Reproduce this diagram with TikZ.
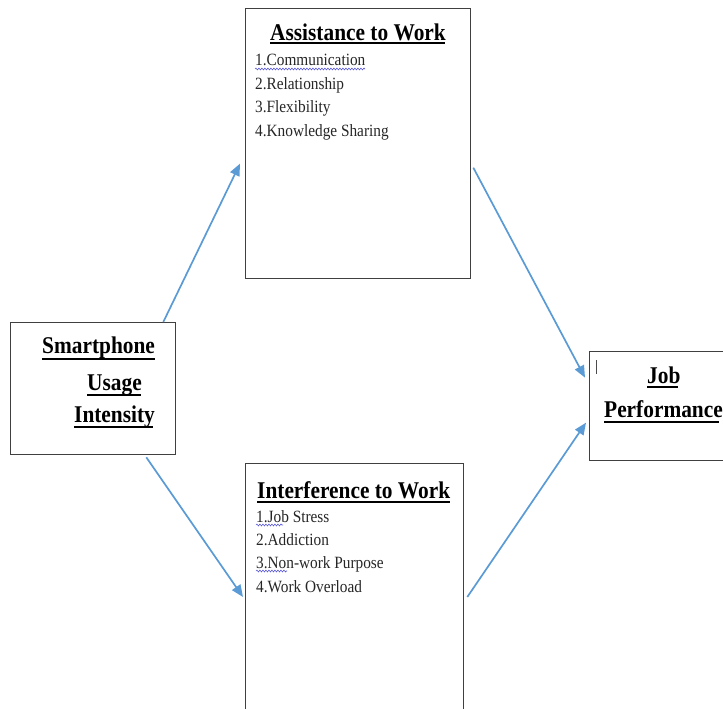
\documentclass[tikz,border=0pt]{standalone}
\usepackage{fontspec}
\setmainfont{Liberation Serif}[FakeStretch=0.89]
\usetikzlibrary{arrows.meta,calc,decorations.pathmorphing}

\tikzset{
  box/.style={draw=black!75, line width=1.3pt, fill=white, inner sep=0pt, anchor=north west},
  flow/.style={draw=arrowblue, line width=1.7pt, -{Triangle[length=12pt,width=10pt]}},
  title/.style={inner sep=0pt, anchor=base west, font=\fontsize{24}{27}\selectfont\bfseries},
  item/.style={inner sep=0pt, anchor=base west, text=black!85, font=\fontsize{17.2}{20}\selectfont},
  uline/.style={line width=2pt, black},
  squiggle/.style={draw=spellblue, line width=0.6pt, decorate,
    decoration={snake, amplitude=0.9pt, segment length=3pt}}
}
\definecolor{arrowblue}{HTML}{5B9BD5}
\definecolor{spellblue}{HTML}{5A5AD8}

\begin{document}
\begin{tikzpicture}[x=1pt, y=-1pt]
  \useasboundingbox (0,0) rectangle (723,709);
  \clip (0,0) rectangle (723,709);

  % boxes
  \node[box, minimum width=225pt, minimum height=270pt] (assist) at (245,8) {};
  \node[box, minimum width=165pt, minimum height=132pt] (smart) at (10,322) {};
  \node[box, minimum width=134pt, minimum height=109pt] (job) at (589,351) {};
  \node[box, minimum width=218pt, minimum height=270pt] (interf) at (245,463) {};

  % Assistance to Work
  \node[title] (atitle) at (270,40.5) {Assistance to Work};
  \draw[uline] (270,43.5) -- (445,43.5);
  \node[item] (a1) at (255,66) {1.Communication};
  \node[item] (a2) at (255,89.5) {2.Relationship};
  \node[item] (a3) at (255,113) {3.Flexibility};
  \node[item] (a4) at (255,136.5) {4.Knowledge Sharing};
  \draw[squiggle] (255,69) -- (365,69);

  % Interference to Work
  \node[title] (ititle) at (257,498) {Interference to Work};
  \draw[uline] (257,501.5) -- (450,501.5);
  \node[item] (i1) at (256,522) {1.Job Stress};
  \node[item] (i2) at (256,545) {2.Addiction};
  \node[item] (i3) at (256,568) {3.Non-work Purpose};
  \node[item] (i4) at (256,592) {4.Work Overload};
  \draw[squiggle] (256,525) -- (283,525);
  \draw[squiggle] (256,571) -- (287,571);

  % Smartphone Usage Intensity
  \node[title] (s1) at (42,353) {Smartphone};
  \node[title] (s2) at (87,390) {Usage};
  \node[title] (s3) at (74,422) {Intensity};
  \draw[uline] (42,359) -- (155,359);
  \draw[uline] (87,395) -- (141,395);
  \draw[uline] (74,426.5) -- (153,426.5);

  % Job Performance
  \node[title] (j1) at (647,383) {Job};
  \node[title] (j2) at (604,417) {Performance};
  \draw[uline] (647,387) -- (678,387);
  \draw[uline] (604,421.5) -- (719,421.5);
  \draw[black!70, line width=0.8pt] (596,360) -- (596,374);

  % connectors
  \draw[flow] ([xshift=-13pt]smart.north east) -- ([xshift=-5pt,yshift=-20pt]assist.west);
  \draw[flow] ([xshift=-30pt,yshift=-2pt]smart.south east) -- ([xshift=-2pt,yshift=-134pt]interf.north west);
  \draw[flow] ([xshift=2pt,yshift=-24pt]assist.east) -- ([xshift=-4pt,yshift=28.5pt]job.west);
  \draw[flow] ([xshift=3pt,yshift=-134pt]interf.north east) -- ([xshift=-3pt,yshift=-16.5pt]job.west);
\end{tikzpicture}
\end{document}
